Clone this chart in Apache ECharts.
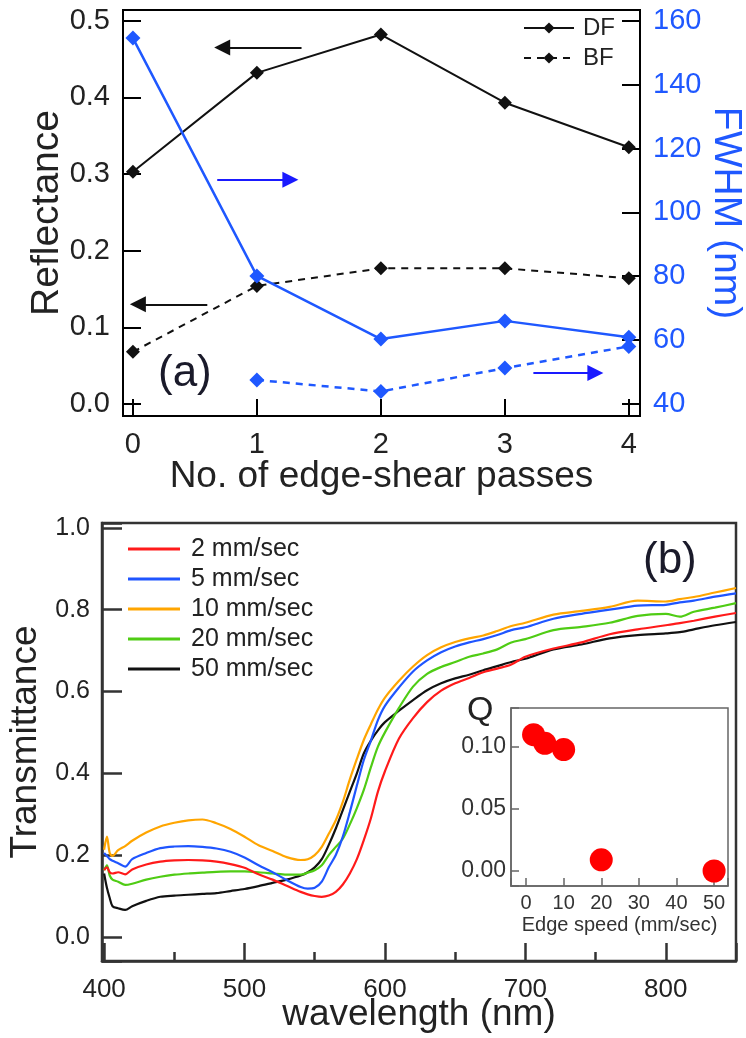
<!DOCTYPE html>
<html><head><meta charset="utf-8">
<script src="https://cdn.jsdelivr.net/npm/echarts@6/dist/echarts.min.js"></script>
<style>html,body{margin:0;padding:0;background:#fff}#c{width:746px;height:1038px}</style>
</head><body><div id="c"></div>
<script>
// ---------- Panel (a) data ----------
const passes = [0, 1, 2, 3, 4];
const reflDF = [0.303, 0.432, 0.482, 0.393, 0.335];
const reflBF = [0.068, 0.154, 0.177, 0.177, 0.164];
const fwhmDF = [154.6, 80.1, 60.3, 66.0, 60.9];
const fwhmBF = [null, 47.5, 43.9, 51.2, 58.0];
// annotation arrows (data coordinates): [x1, y1, x2, y2]
const arrowsRefl = [[1.36, 0.465, 0.72, 0.465], [0.60, 0.130, 0.04, 0.130]];
const arrowsFwhm = [[0.68, 110.2, 1.27, 110.2], [3.23, 49.7, 3.73, 49.7]];

// ---------- Panel (b) data ----------
const wavelength = [400,402,404,406,410,415,420,430,440,450,460,470,480,490,500,510,520,530,540,545,550,555,560,565,570,575,580,585,590,595,600,610,620,630,640,650,660,670,680,690,700,720,740,760,780,800,810,820,835,850];
const t2 = [.163,.170,.158,.155,.158,.153,.165,.177,.184,.187,.188,.187,.184,.178,.169,.153,.140,.125,.110,.104,.100,.098,.101,.110,.128,.155,.190,.237,.290,.355,.405,.485,.535,.574,.602,.620,.633,.647,.656,.666,.685,.705,.720,.740,.752,.762,.767,.773,.783,.792];
const t5 = [.205,.198,.190,.186,.180,.172,.190,.205,.217,.221,.222,.220,.216,.208,.194,.175,.158,.139,.122,.118,.120,.135,.170,.200,.245,.305,.370,.433,.480,.530,.565,.610,.649,.676,.696,.710,.720,.728,.738,.750,.757,.778,.790,.800,.810,.812,.818,.822,.832,.840];
const t10 = [.213,.245,.205,.198,.212,.222,.235,.255,.270,.279,.285,.287,.278,.264,.245,.224,.210,.195,.188,.190,.200,.220,.252,.285,.330,.385,.435,.482,.520,.556,.585,.626,.661,.689,.708,.721,.730,.737,.748,.760,.768,.788,.797,.807,.822,.820,.826,.831,.842,.853];
const t20 = [.163,.175,.150,.140,.135,.127,.130,.140,.147,.152,.155,.157,.159,.160,.160,.158,.155,.152,.152,.157,.163,.175,.200,.220,.240,.275,.315,.360,.415,.465,.500,.560,.612,.643,.660,.672,.685,.693,.703,.720,.728,.750,.758,.768,.785,.790,.783,.795,.805,.816];
const t50 = [.155,.120,.095,.075,.070,.066,.075,.088,.098,.101,.103,.105,.107,.112,.117,.124,.132,.140,.150,.158,.170,.190,.225,.265,.310,.355,.400,.449,.480,.505,.525,.553,.579,.603,.620,.632,.641,.652,.662,.672,.680,.703,.715,.730,.738,.742,.745,.752,.762,.770];
const speedNames = ['2 mm/sec', '5 mm/sec', '10 mm/sec', '20 mm/sec', '50 mm/sec'];

// ---------- Inset data ----------
const edgeSpeed = [2, 5, 10, 20, 50];
const qValues = [0.110, 0.103, 0.098, 0.009, 0.000];

// ---------- styling ----------
const FF = '"Liberation Sans", Arial, Helvetica, sans-serif';
const BLACK = '#111111';
const BLUE = '#1f58ff';
const specColors = ['#ff1a1a', '#1f55ff', '#ffa500', '#4fcc14', '#111111'];

const pairs = (xs, ys) => xs.map((x, i) => [x, ys[i]]).filter(p => p[1] !== null);
const onMultiple = (step, digits) => v => {
  const r = v / step;
  return Math.abs(r - Math.round(r)) < 1e-6 ? (digits >= 0 ? v.toFixed(digits) : String(Math.round(v))) : '';
};
const arrowLines = list => list.map(a => [{coord: [a[0], a[1]]}, {coord: [a[2], a[3]]}]);

const specSeries = [t2, t5, t10, t20, t50].map((arr, i) => ({
  name: speedNames[i], type: 'line', xAxisIndex: 1, yAxisIndex: 2,
  data: pairs(wavelength, arr), symbol: 'none', smooth: 0.3,
  lineStyle: {width: 2.2, color: specColors[i]}, itemStyle: {color: specColors[i]}, z: 5 - i + 2
}));

const option = {
  animation: false,
  backgroundColor: '#fff',
  textStyle: {fontFamily: FF},
  title: [
    {text: '(a)', left: 158, top: 352, padding: 0, textStyle: {fontSize: 44, fontWeight: 'normal', color: '#1a1a2a', fontFamily: FF}},
    {text: '(b)', left: 643, top: 539, padding: 0, textStyle: {fontSize: 44, fontWeight: 'normal', color: '#1a1a2a', fontFamily: FF}},
    {text: 'Q', left: 467, top: 694, padding: 0, textStyle: {fontSize: 34, fontWeight: 'normal', color: '#222', fontFamily: FF}}
  ],
  legend: [
    {data: ['DF', 'BF'], orient: 'vertical', left: 523, top: 16, itemWidth: 50, itemHeight: 14, itemGap: 6,
     padding: 0, textStyle: {fontSize: 24, color: '#222', fontFamily: FF, padding: [0, 0, 0, 4]}},
    {data: speedNames, orient: 'vertical', left: 128, top: 536, itemWidth: 52, itemHeight: 3, itemGap: 4,
     icon: 'rect', padding: 0,
     textStyle: {fontSize: 25, color: '#222', fontFamily: FF, padding: [0, 0, 0, 6], lineHeight: 26}}
  ],
  grid: [
    {left: 123, top: 10, width: 517, height: 406, show: true, borderColor: '#000', borderWidth: 2, backgroundColor: 'transparent', outerBoundsMode: 'none'},
    {left: 102, top: 523, width: 634, height: 438, show: true, borderColor: '#333', borderWidth: 2.5, backgroundColor: 'transparent', outerBoundsMode: 'none'},
    {left: 511, top: 708, width: 217, height: 178, show: true, borderColor: '#666', borderWidth: 1.5, backgroundColor: '#fff', outerBoundsMode: 'none'}
  ],
  xAxis: [
    {gridIndex: 0, type: 'value', position: 'bottom', min: -0.08, max: 4.09, splitNumber: 5,
     name: 'No. of edge-shear passes', nameLocation: 'middle', nameGap: 42, nameMoveOverlap: false,
     nameTextStyle: {fontSize: 37, color: '#222', fontFamily: FF},
     axisLine: {onZero: false, lineStyle: {color: '#000', width: 2}},
     axisTick: {inside: true, length: 17, lineStyle: {color: '#000', width: 2}},
     axisLabel: {fontSize: 29, color: '#222', margin: 14, formatter: onMultiple(1, -1), fontFamily: FF},
     splitLine: {show: false}},
    {gridIndex: 1, type: 'value', position: 'bottom', min: 398.5, max: 850, splitNumber: 5,
     name: 'wavelength (nm)', nameLocation: 'middle', nameGap: 35, nameMoveOverlap: false,
     nameTextStyle: {fontSize: 37, color: '#222', fontFamily: FF},
     axisLine: {onZero: false, lineStyle: {color: '#333', width: 2.5}},
     axisTick: {inside: true, length: 18, lineStyle: {color: '#333', width: 2.5}},
     axisLabel: {fontSize: 26, color: '#222', margin: 16, formatter: onMultiple(100, -1), fontFamily: FF},
     splitLine: {show: false}},
    {gridIndex: 1, type: 'value', position: 'bottom', min: 398.5, max: 850, splitNumber: 9,
     axisLine: {show: false, onZero: false},
     axisTick: {inside: true, length: 9, lineStyle: {color: '#333', width: 2.5}},
     axisLabel: {show: false}, splitLine: {show: false}},
    {gridIndex: 2, type: 'value', position: 'bottom', min: -4, max: 53.7, splitNumber: 5,
     name: 'Edge speed (mm/sec)', nameLocation: 'middle', nameGap: 29, nameMoveOverlap: false,
     nameTextStyle: {fontSize: 20, color: '#333', fontFamily: FF},
     axisLine: {onZero: false, lineStyle: {color: '#666', width: 1.5}},
     axisTick: {inside: true, length: 8, lineStyle: {color: '#666', width: 1.5}},
     axisLabel: {fontSize: 20, color: '#333', margin: 7, formatter: onMultiple(10, -1), fontFamily: FF},
     splitLine: {show: false}}
  ],
  yAxis: [
    {gridIndex: 0, type: 'value', position: 'left', min: -0.0157, max: 0.514, splitNumber: 5,
     name: 'Reflectance', nameLocation: 'middle', nameGap: 56, nameMoveOverlap: false,
     nameTextStyle: {fontSize: 39, color: '#222', fontFamily: FF},
     axisLine: {onZero: false, lineStyle: {color: '#000', width: 2}},
     axisTick: {inside: true, length: 18, lineStyle: {color: '#000', width: 2}},
     axisLabel: {fontSize: 29, color: '#222', margin: 13, formatter: onMultiple(0.1, 1), fontFamily: FF},
     splitLine: {show: false}},
    {gridIndex: 0, type: 'value', position: 'right', min: 36.2, max: 163.4, splitNumber: 6,
     name: 'FWHM (nm)', nameLocation: 'middle', nameGap: 66, nameRotate: -90, nameMoveOverlap: false,
     nameTextStyle: {fontSize: 39, color: BLUE, fontFamily: FF},
     axisLine: {onZero: false, lineStyle: {color: '#000', width: 2}},
     axisTick: {inside: true, length: 18, lineStyle: {color: '#000', width: 2}},
     axisLabel: {fontSize: 29, color: BLUE, margin: 13, formatter: onMultiple(20, -1), fontFamily: FF},
     splitLine: {show: false}},
    {gridIndex: 1, type: 'value', position: 'left', min: -0.059, max: 1.012, splitNumber: 5,
     name: 'Transmittance', nameLocation: 'middle', nameGap: 58, nameMoveOverlap: false,
     nameTextStyle: {fontSize: 37, color: '#222', fontFamily: FF},
     axisLine: {onZero: false, lineStyle: {color: '#333', width: 2.5}},
     axisTick: {inside: true, length: 20, lineStyle: {color: '#333', width: 2.5}},
     axisLabel: {fontSize: 25, color: '#222', margin: 12, formatter: onMultiple(0.2, 1), fontFamily: FF},
     splitLine: {show: false}},
    {gridIndex: 2, type: 'value', position: 'left', min: -0.0121, max: 0.1315, splitNumber: 3,
     axisLine: {onZero: false, lineStyle: {color: '#666', width: 1.5}},
     axisTick: {inside: true, length: 8, lineStyle: {color: '#666', width: 1.5}},
     axisLabel: {fontSize: 23, color: '#333', margin: 5, formatter: onMultiple(0.05, 2), fontFamily: FF},
     splitLine: {show: false}}
  ],
  series: [
    {name: 'DF', type: 'line', xAxisIndex: 0, yAxisIndex: 0, data: pairs(passes, reflDF),
     symbol: 'diamond', symbolSize: 14, lineStyle: {color: BLACK, width: 2}, itemStyle: {color: BLACK},
     markLine: {silent: true, symbol: ['none', 'triangle'], symbolSize: 16, label: {show: false},
       lineStyle: {color: BLACK, width: 2, type: 'solid'}, data: arrowLines(arrowsRefl)}},
    {name: 'BF', type: 'line', xAxisIndex: 0, yAxisIndex: 0, data: pairs(passes, reflBF),
     symbol: 'diamond', symbolSize: 14, lineStyle: {color: BLACK, width: 2, type: [7, 6]}, itemStyle: {color: BLACK}},
    {name: 'DF FWHM', type: 'line', xAxisIndex: 0, yAxisIndex: 1, data: pairs(passes, fwhmDF),
     symbol: 'diamond', symbolSize: 15, lineStyle: {color: BLUE, width: 2.5}, itemStyle: {color: BLUE},
     markLine: {silent: true, symbol: ['none', 'triangle'], symbolSize: 16, label: {show: false},
       lineStyle: {color: '#1a1aff', width: 2, type: 'solid'}, data: arrowLines(arrowsFwhm)}},
    {name: 'BF FWHM', type: 'line', xAxisIndex: 0, yAxisIndex: 1, data: pairs(passes, fwhmBF),
     symbol: 'diamond', symbolSize: 15, lineStyle: {color: BLUE, width: 2.5, type: [7, 6]}, itemStyle: {color: BLUE}},
    ...specSeries,
    {name: 'Q', type: 'scatter', xAxisIndex: 3, yAxisIndex: 3, data: pairs(edgeSpeed, qValues),
     symbol: 'circle', symbolSize: 23, itemStyle: {color: '#ff0000', opacity: 1}, z: 10}
  ]
};
const chart = echarts.init(document.getElementById('c'), null, {renderer: 'canvas'});
chart.setOption(option);
</script></body></html>
